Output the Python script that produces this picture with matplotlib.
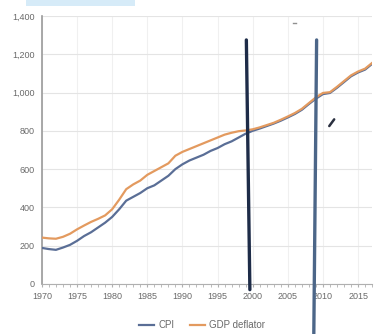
import matplotlib
matplotlib.use("Agg")
import matplotlib.pyplot as plt
from matplotlib.ticker import FuncFormatter, MultipleLocator

years = list(range(1970, 2018))

cpi = [188, 182, 178, 190, 204, 225, 250, 270, 295, 320,
       350, 390, 435, 455, 475, 500, 515, 540, 565, 600,
       625, 645, 660, 675, 695, 710, 730, 745, 765, 785,
       800, 812, 825, 838, 853, 870, 888, 910, 940, 968,
       992, 998, 1025, 1055, 1085, 1105, 1120, 1150]

gdp_deflator = [242, 238, 236, 246, 262, 285, 305, 324, 340, 358,
                390, 440, 495, 520, 540, 570, 590, 610, 630, 670,
                690, 705, 720, 735, 750, 765, 780, 790, 798, 802,
                808, 818, 830, 842, 858, 875, 893, 915, 945, 975,
                998, 1002, 1030, 1060, 1090, 1110, 1125, 1155]

series_names = ["CPI", "GDP deflator"]
year_ticks = list(range(1970, 2016, 5))

plt.rcParams['font.family'] = ['Liberation Sans', 'DejaVu Sans']

fig = plt.figure(figsize=(3.74, 3.34), dpi=100)
ax = fig.add_axes([0.112, 0.15, 0.883, 0.802])

ax.plot(years, cpi, color='#5a6e96', lw=1.6, label=series_names[0], zorder=3)
ax.plot(years, gdp_deflator, color='#e39a5f', lw=1.6, label=series_names[1], zorder=3)

ax.set_xlim(1970, 2017)
ax.set_ylim(0, 1400)
ax.yaxis.set_major_locator(MultipleLocator(200))
ax.yaxis.set_major_formatter(FuncFormatter(lambda v, p: f"{int(v):,}"))
ax.set_xticks(year_ticks)
ax.xaxis.set_minor_locator(MultipleLocator(1))

ax.grid(axis='y', color='#e4e4e4', lw=0.8)
ax.grid(axis='x', color='#f0f0f0', lw=0.8)
ax.set_axisbelow(True)

for s in ['top', 'right']:
    ax.spines[s].set_visible(False)
ax.spines['left'].set_color('#9a9a9a')
ax.spines['left'].set_linewidth(1.2)
ax.spines['bottom'].set_color('#b0b0b0')
ax.tick_params(axis='both', labelsize=6.5, colors='#707070', length=0, pad=5)
ax.tick_params(axis='x', which='both', length=2, color='#b0b0b0', direction='out')
ax.tick_params(axis='x', which='major', pad=4)
for lbl in ax.get_xticklabels() + ax.get_yticklabels():
    lbl.set_color('#6a6a6a')

fig.legend(loc='center', bbox_to_anchor=(0.54, 0.026), ncol=2, frameon=False,
           fontsize=7, handlelength=1.6, columnspacing=1.6, handletextpad=0.4,
           labelcolor='#6a6a6a')

# pen marks drawn over the chart
ax.plot([1999.1, 1999.6], [1275, -30], color='#1e2c48', lw=2.4,
        solid_capstyle='round', clip_on=False, zorder=5)
ax.plot([2009.1, 2008.7], [1275, -260], color='#4c6688', lw=2.4,
        solid_capstyle='round', clip_on=False, zorder=5)
ax.plot([2010.9, 2011.6], [825, 860], color='#2a3040', lw=1.8,
        solid_capstyle='round', zorder=5)
ax.plot([2005.8, 2006.1], [1365, 1365], color='#909090', lw=1.0,
        clip_on=False, zorder=5)

# pale strip at the top edge
fig.patches.append(plt.Rectangle((0.07, 0.982), 0.29, 0.018, transform=fig.transFigure,
                                 color='#d6ebf8', lw=0, zorder=0))

fig.savefig('out.png', dpi=100)
